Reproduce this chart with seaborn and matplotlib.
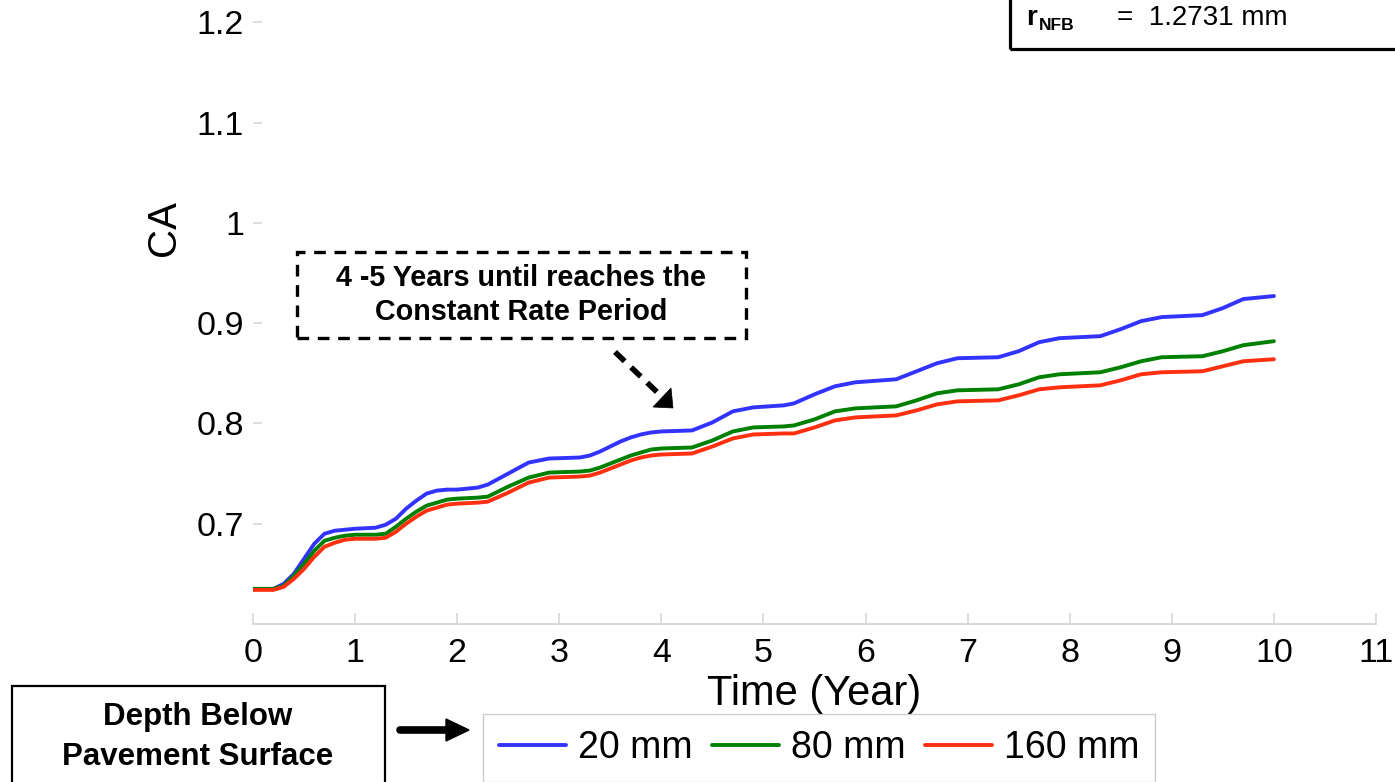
import numpy as np
import pandas as pd
import matplotlib
matplotlib.use("Agg")
import matplotlib.pyplot as plt
from matplotlib.patches import Rectangle, Polygon
import seaborn as sns

# Time axis (years) and CA values at three depths below the pavement surface
time_years = [0.0, 0.2, 0.3, 0.4, 0.5, 0.6, 0.7, 0.8, 0.9, 1.0, 1.2, 1.3, 1.4, 1.5,
              1.6, 1.7, 1.8, 1.9, 2.0, 2.2, 2.3, 2.5, 2.7, 2.9, 3.2, 3.3, 3.4, 3.5,
              3.6, 3.7, 3.8, 3.9, 4.0, 4.3, 4.5, 4.7, 4.9, 5.2, 5.3, 5.5, 5.7, 5.9,
              6.3, 6.5, 6.7, 6.9, 7.3, 7.5, 7.7, 7.9, 8.3, 8.5, 8.7, 8.9, 9.3, 9.5,
              9.7, 10.0]

ca_20mm = [0.635, 0.635, 0.640, 0.650, 0.665, 0.680, 0.690, 0.693, 0.694, 0.695,
           0.696, 0.699, 0.705, 0.715, 0.723, 0.730, 0.733, 0.734, 0.734, 0.736,
           0.739, 0.750, 0.761, 0.765, 0.766, 0.768, 0.772, 0.777, 0.782, 0.786,
           0.789, 0.791, 0.792, 0.793, 0.801, 0.812, 0.816, 0.818, 0.820, 0.829,
           0.837, 0.841, 0.844, 0.852, 0.860, 0.865, 0.866, 0.872, 0.881, 0.885,
           0.887, 0.894, 0.902, 0.906, 0.908, 0.915, 0.924, 0.927]

ca_80mm = [0.635, 0.635, 0.638, 0.648, 0.660, 0.673, 0.683, 0.686, 0.688, 0.689,
           0.689, 0.690, 0.697, 0.705, 0.712, 0.718, 0.721, 0.724, 0.725, 0.726,
           0.727, 0.737, 0.746, 0.751, 0.752, 0.753, 0.756, 0.760, 0.764, 0.768,
           0.771, 0.774, 0.775, 0.776, 0.783, 0.792, 0.796, 0.797, 0.798, 0.804,
           0.812, 0.815, 0.817, 0.823, 0.830, 0.833, 0.834, 0.839, 0.846, 0.849,
           0.851, 0.856, 0.862, 0.866, 0.867, 0.872, 0.878, 0.882]

ca_160mm = [0.634, 0.634, 0.637, 0.645, 0.655, 0.667, 0.677, 0.681, 0.684, 0.685,
            0.685, 0.686, 0.692, 0.700, 0.707, 0.713, 0.716, 0.719, 0.720, 0.721,
            0.722, 0.731, 0.741, 0.746, 0.747, 0.748, 0.751, 0.755, 0.759, 0.763,
            0.766, 0.768, 0.769, 0.770, 0.777, 0.785, 0.789, 0.790, 0.790, 0.796,
            0.803, 0.806, 0.808, 0.813, 0.819, 0.822, 0.823, 0.828, 0.834, 0.836,
            0.838, 0.843, 0.849, 0.851, 0.852, 0.857, 0.862, 0.864]

depth_labels = ["20 mm", "80 mm", "160 mm"]
x_ticks = list(range(0, 12))
y_ticks = [0.7, 0.8, 0.9, 1.0, 1.1, 1.2]
y_tick_labels = ["0.7", "0.8", "0.9", "1", "1.1", "1.2"]

frames = []
for label, values in zip(depth_labels, [ca_20mm, ca_80mm, ca_160mm]):
    frames.append(pd.DataFrame({"Time": time_years, "CA": values, "Depth": label}))
data = pd.concat(frames, ignore_index=True)

sns.set_theme(style="white")
plt.rcParams["font.family"] = ["Liberation Sans", "DejaVu Sans"]
plt.rcParams["text.color"] = "black"
plt.rcParams["axes.labelcolor"] = "black"

W, H = 1395, 782
fig = plt.figure(figsize=(W / 100, H / 100), dpi=100)
ax = fig.add_axes([253 / W, (H - 624) / H, 1123 / W, 624 / H])

palette = {"20 mm": "#3333ff", "80 mm": "#008000", "160 mm": "#ff3010"}
sns.lineplot(data=data, x="Time", y="CA", hue="Depth", hue_order=depth_labels,
             palette=palette, linewidth=2.8, estimator=None, sort=True,
             legend=False, ax=ax)

ax.set_xlim(0, 11)
ax.set_ylim(0.6, 1.2222)
ax.set_xticks(x_ticks)
ax.set_xticklabels([str(t) for t in x_ticks])
ax.set_yticks(y_ticks)
ax.set_yticklabels(y_tick_labels)

grey = "#d4d4d4"
for side in ["left", "top", "right"]:
    ax.spines[side].set_visible(False)
ax.spines["bottom"].set_color(grey)
ax.spines["bottom"].set_linewidth(1.3)
ax.tick_params(axis="x", direction="in", length=8, width=1.1, color=grey,
               labelsize=24.5, pad=10, labelcolor="black", bottom=True)
ax.tick_params(axis="y", direction="in", length=6.5, width=1.1, color=grey,
               labelsize=24.5, pad=6.5, labelcolor="black", left=True)

ax.set_xlabel("Time (Year)", fontsize=30, labelpad=4, color="black")
ax.set_ylabel("CA", fontsize=29, color="black")
ax.yaxis.set_label_coords(-0.062, 0.635)

# Legend for the three depths
handles = ax.get_lines()[:3]
leg = ax.legend(handles, depth_labels, loc="upper left",
                bbox_to_anchor=(483 / W, 1 - 714 / H), bbox_transform=fig.transFigure,
                borderaxespad=0, ncol=3, fontsize=27, frameon=True, fancybox=False,
                handlelength=1.8, handletextpad=0.32, columnspacing=0.5,
                borderpad=0.42)
leg.get_frame().set_edgecolor("#c0c0c0")
leg.get_frame().set_linewidth(1.0)
for line in leg.get_lines():
    line.set_linewidth(2.8)
for txt in leg.get_texts():
    txt.set_color("black")

# Dashed annotation box with arrow
fig.text(521 / W, 1 - 295 / H, "4 -5 Years until reaches the\nConstant Rate Period",
         ha="center", va="center", fontsize=20.7, fontweight="bold",
         linespacing=1.25, color="black")
box = Rectangle((297 / W, 1 - 338 / H), (746 - 297) / W, (338 - 252) / H,
                transform=fig.transFigure, fill=False, edgecolor="black",
                linewidth=2.4, linestyle=(0, (3.5, 2.6)))
fig.patches.append(box)
fig.add_artist(plt.Line2D([615 / W, 658 / W], [1 - 352 / H, 1 - 393 / H],
                          transform=fig.transFigure, color="black", linewidth=4,
                          linestyle=(0, (2.4, 1.6))))
fig.add_artist(Polygon([[653 / W, 1 - 407 / H], [673 / W, 1 - 408 / H],
                        [671 / W, 1 - 388 / H]], closed=True,
                       transform=fig.transFigure, facecolor="black",
                       edgecolor="black", linewidth=0.5))

# Depth description box and pointer to the legend
depth_box = Rectangle((12 / W, -0.05), (385 - 12) / W, (H - 686) / H + 0.05,
                      transform=fig.transFigure, fill=False, edgecolor="black",
                      linewidth=1.6)
fig.patches.append(depth_box)
fig.text(198 / W, 1 - 737 / H, "Depth Below\nPavement Surface", ha="center",
         va="center", fontsize=22.5, fontweight="bold", linespacing=1.4,
         color="black")
fig.add_artist(plt.Line2D([400 / W, 450 / W], [1 - 730 / H, 1 - 730 / H],
                          transform=fig.transFigure, color="black", linewidth=5.5))
fig.add_artist(Polygon(
    [[446 / W, 1 - 719 / H], [469 / W, 1 - 730 / H], [446 / W, 1 - 741 / H]],
    closed=True, transform=fig.transFigure, facecolor="black", edgecolor="black"))

# Parameter box in the upper right corner
param_box = Rectangle((1010 / W, 1 - 48.5 / H), 0.4, 0.1,
                      transform=fig.transFigure, fill=False, edgecolor="black",
                      linewidth=2.3)
fig.patches.append(param_box)
fig.text(1026 / W, 1 - 25 / H, "r", ha="left", va="baseline", fontsize=20,
         fontweight="bold", color="black")
fig.text(1039 / W, 1 - 30 / H, "NFB", ha="left", va="baseline", fontsize=12.5,
         fontweight="bold", color="black")
fig.text(1117 / W, 1 - 25 / H, "=  1.2731 mm", ha="left", va="baseline",
         fontsize=20, color="black")

fig.savefig("out.png", dpi=100)
